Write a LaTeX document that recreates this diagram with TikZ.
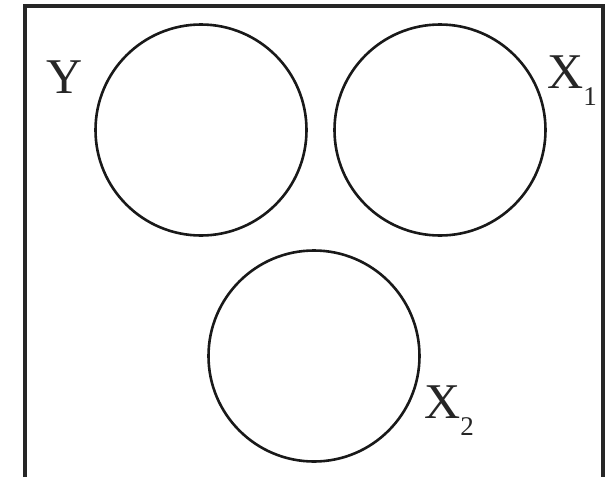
\documentclass[tikz,border=0pt]{standalone}
\usepackage{fontspec}
\setmainfont{Liberation Serif}
\usepackage{tikz}
\usetikzlibrary{positioning}

\tikzset{
  setcircle/.style={circle, draw=black!90, line width=2.6pt, minimum size=211pt, inner sep=0pt},
  setlabel/.style={anchor=base west, inner sep=0pt, font=\fontsize{50}{50}\selectfont, text=black!85},
}
\newcommand{\lowsub}[1]{\raisebox{-17pt}{\fontsize{27}{27}\selectfont #1}}

\begin{document}
\begin{tikzpicture}[x=1pt,y=-1pt]
  \useasboundingbox (0,0) rectangle (608,477);
  % frame, open at the lower edge of the picture
  \draw[line width=3.4pt, black!85] (25,477) -- (25,6) -- (603,6) -- (603,477);

  % the three sets
  \node[setcircle] (y)  at (201,130) {};
  \node[setcircle] (x1) at (440,130) {};
  \node[setcircle] (x2) at (314,356) {};

  \node[setlabel] (ly)  at (46,93)   {Y};
  \node[setlabel] (lx1) at (547,88)  {X\lowsub{1}};
  \node[setlabel] (lx2) at (424,418) {X\lowsub{2}};
\end{tikzpicture}
\end{document}
